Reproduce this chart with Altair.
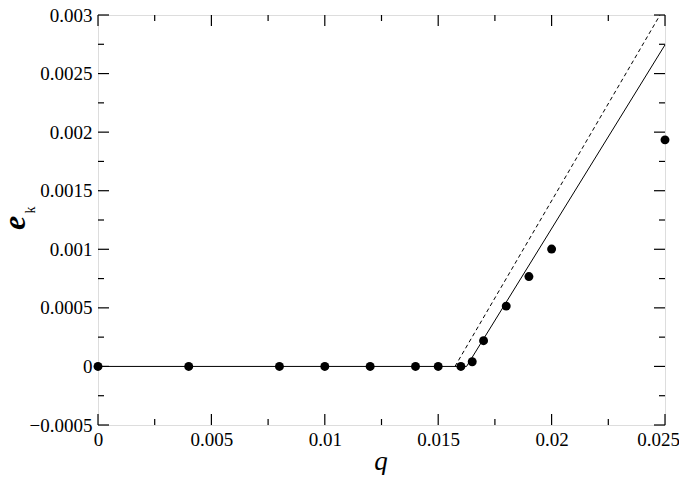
import altair as alt
import pandas as pd

# measured points
q_pts = [0, 0.004, 0.008, 0.010, 0.012, 0.014, 0.015, 0.016, 0.0165, 0.017, 0.018, 0.019, 0.020, 0.025]
e_pts = [0, 0, 0, 0, 0, 0, 0, 0, 0.00004, 0.00022, 0.000515, 0.000767, 0.001002, 0.001934]

# solid fit line
solid_q = [0, 0.01625, 0.025]
solid_e = [0, 0, 0.002745]

# dashed line
dash_q = [0.01574, 0.02478]
dash_e = [0, 0.003]

# ticks
x_major = [0, 0.005, 0.01, 0.015, 0.02, 0.025]
x_minor = [0.0025, 0.0075, 0.0125, 0.0175, 0.0225]
y_major = [-0.0005, 0, 0.0005, 0.001, 0.0015, 0.002, 0.0025, 0.003]
y_minor = [-0.00025, 0.00025, 0.00075, 0.00125, 0.00175, 0.00225, 0.00275]

x_title = ["q"]
y_title_main = ["e"]
y_title_sub = ["k"]

W, H = 567, 410
FONT = "Liberation Serif"

xs = alt.Scale(domain=[0, 0.025], nice=False, zero=False)
ys = alt.Scale(domain=[-0.0005, 0.003], nice=False, zero=False)

x_axis = alt.Axis(values=x_major, format="~r", ticks=False, domain=False, grid=False,
                  labelFont=FONT, labelFontSize=19, labelColor="black", labelPadding=5,
                  labelOffset={"condition": {"test": "datum.value >= 0.0249", "value": -7}, "value": 0},
                  title=None, labelFlush=False, labelOverlap=False)
y_axis = alt.Axis(values=y_major, format="~r", ticks=False, domain=False, grid=False,
                  labelFont=FONT, labelFontSize=19, labelColor="black", labelPadding=6,
                  title=None, labelFlush=False, labelOverlap=False)

pts_df = pd.DataFrame({"q": q_pts, "e": e_pts})
solid_df = pd.DataFrame({"q": solid_q, "e": solid_e})
dash_df = pd.DataFrame({"q": dash_q, "e": dash_e})

X = lambda f: alt.X(f, scale=xs, axis=x_axis)
Y = lambda f: alt.Y(f, scale=ys, axis=y_axis)

solid = alt.Chart(solid_df).mark_line(color="black", strokeWidth=1).encode(x=X("q:Q"), y=Y("e:Q"))
dashed = alt.Chart(dash_df).mark_line(color="black", strokeWidth=1, strokeDash=[4, 3]).encode(
    x=X("q:Q"), y=Y("e:Q"))
points = alt.Chart(pts_df).mark_circle(size=80, color="black", opacity=1).encode(x=X("q:Q"), y=Y("e:Q"))


def y_ticks(vals, length):
    df = pd.DataFrame({"v": vals})
    base = alt.Chart(df).mark_rule(color="black", strokeWidth=1.2)
    left = base.encode(y=Y("v:Q"), x=alt.value(0), x2=alt.value(length))
    right = base.encode(y=Y("v:Q"), x=alt.value(W), x2=alt.value(W - length))
    return [left, right]


def x_ticks(vals, length):
    df = pd.DataFrame({"v": vals})
    base = alt.Chart(df).mark_rule(color="black", strokeWidth=1.2)
    bottom = base.encode(x=X("v:Q"), y=alt.value(H), y2=alt.value(H - length))
    top = base.encode(x=X("v:Q"), y=alt.value(0), y2=alt.value(length))
    return [bottom, top]


ticks = y_ticks(y_major, 11) + y_ticks(y_minor, 6) + x_ticks(x_major, 11) + x_ticks(x_minor, 6)

xt = alt.Chart(pd.DataFrame({"t": x_title})).mark_text(
    font=FONT, fontSize=27, fontStyle="italic", color="black", align="center", baseline="alphabetic"
).encode(text="t:N", x=alt.value(283), y=alt.value(455))

yt = alt.Chart(pd.DataFrame({"t": y_title_main})).mark_text(
    font=FONT, fontSize=32, fontStyle="italic", fontWeight="bold", color="black",
    align="center", baseline="alphabetic", angle=270
).encode(text="t:N", x=alt.value(-73), y=alt.value(208))

yk = alt.Chart(pd.DataFrame({"t": y_title_sub})).mark_text(
    font=FONT, fontSize=14, color="black", align="center", baseline="alphabetic", angle=270
).encode(text="t:N", x=alt.value(-63), y=alt.value(195))

chart = alt.layer(solid, dashed, *ticks, points, xt, yt, yk).properties(
    width=W, height=H,
    autosize=alt.AutoSizeParams(type="none"),
    padding={"left": 90, "top": 7, "right": 14, "bottom": 50},
).configure_view(stroke="black", strokeWidth=1.5).configure(background="white")

chart.save("out.html", embed_options={"renderer": "svg", "actions": False})
